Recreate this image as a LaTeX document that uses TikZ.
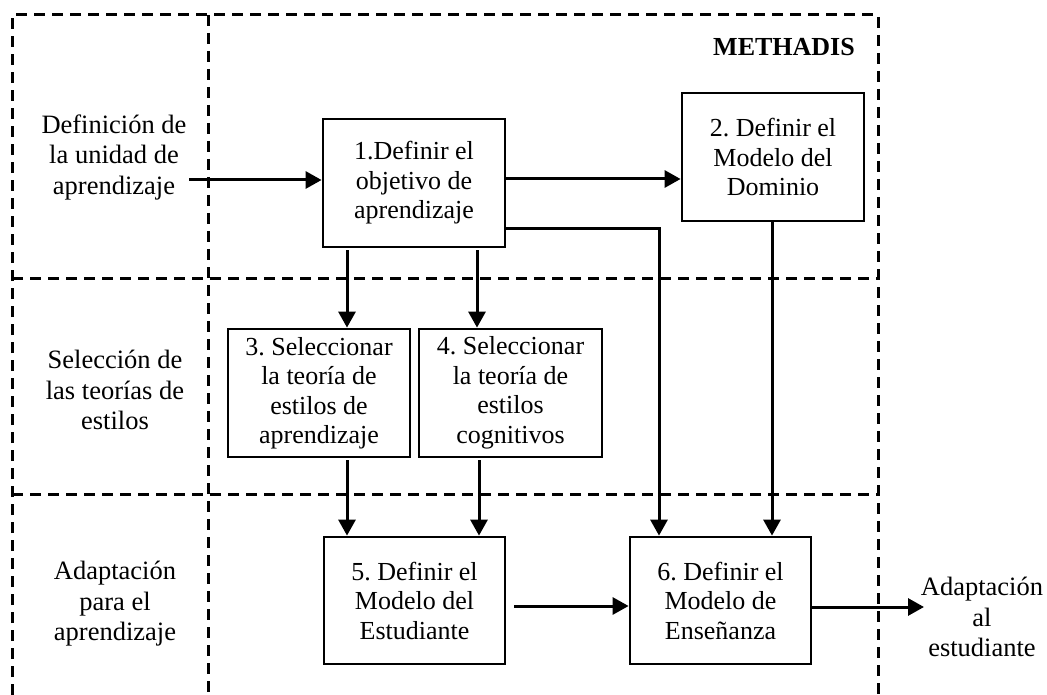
\documentclass[tikz,border=0pt]{standalone}
\usepackage{fontspec}
\setmainfont{Liberation Serif}
\frenchspacing
\usetikzlibrary{arrows.meta}
\tikzset{
  zone/.style={line width=3pt, dash pattern=on 11pt off 7pt},
  stepbox/.style={draw, line width=2.8pt, inner sep=0pt, align=center,
    minimum width=182pt, minimum height=128pt,
    font=\fontsize{26}{29.5}\selectfont},
  lbl/.style={align=center, inner sep=0pt, font=\fontsize{26.5}{30.5}\selectfont},
  arr/.style={line width=3pt, -{Triangle[length=16pt,width=17pt]}},
}
\begin{document}
\begin{tikzpicture}[x=1pt,y=-1pt]
\useasboundingbox (0,0) rectangle (1047,695);

% phase zones
\draw[zone] (12,695) -- (12,15) -- (878,15) -- (878,695);
\draw[zone] (208,15) -- (208,695);
\draw[zone] (12,278) -- (878,278);
\draw[zone] (12,494) -- (878,494);

\node[anchor=east, inner sep=0pt, font=\fontsize{26}{30}\selectfont\bfseries] (title) at (855,47) {METHADIS};

% phase labels
\node[lbl] (ph1) at (114,157) {Definición de\\la unidad de\\aprendizaje};
\node[lbl] (ph2) at (115,390) {Selección de\\las teorías de\\estilos};
\node[lbl] (ph3) at (115,604) {Adaptación\\para el\\aprendizaje};
\node[lbl] (outl) at (982,617) {Adaptación\\al\\estudiante};

% steps
\node[stepbox] (s1) at (414,183) {1.Definir el\\objetivo de\\aprendizaje};
\node[stepbox] (s2) at (773,157) {2. Definir el\\Modelo del\\Dominio};
\node[stepbox] (s3) at (319,393) {3. Seleccionar\\la teoría de\\estilos de\\aprendizaje};
\node[stepbox, minimum width=183pt] (s4) at (510.5,393) {4. Seleccionar\\la teoría de\\estilos\\cognitivos};
\node[stepbox, minimum width=181pt, minimum height=127pt] (s5) at (414.5,600.5) {5. Definir el\\Modelo del\\Estudiante};
\node[stepbox, minimum width=181pt, minimum height=127pt] (s6) at (720.5,600.5) {6. Definir el\\Modelo de\\Enseñanza};

% connectors
\coordinate (in1) at (189,180);
\coordinate (out6) at (924,607);
\draw[arr] (in1) -- (in1 -| s1.west);
\draw[arr] (s1.east |- 0,179) -- (s2.west |- 0,179);
\draw[arr] (s1.east |- 0,229) -| (s6.north -| 659,0);
\draw[arr] (s2.south -| 772,0) -- (s6.north -| 772,0);
\draw[arr] ([yshift=-2pt]s1.south -| 347,0) -- (s3.north -| 347,0);
\draw[arr] ([yshift=-2pt]s1.south -| 477,0) -- (s4.north -| 477,0);
\draw[arr] ([yshift=-2pt]s3.south -| 347,0) -- (s5.north -| 347,0);
\draw[arr] ([yshift=-2pt]s4.south -| 479,0) -- (s5.north -| 479,0);
\draw[arr] ([xshift=8pt]s5.east |- 0,606) -- (s6.west |- 0,606);
\draw[arr] (s6.east |- out6) -- (out6);
\end{tikzpicture}
\end{document}
